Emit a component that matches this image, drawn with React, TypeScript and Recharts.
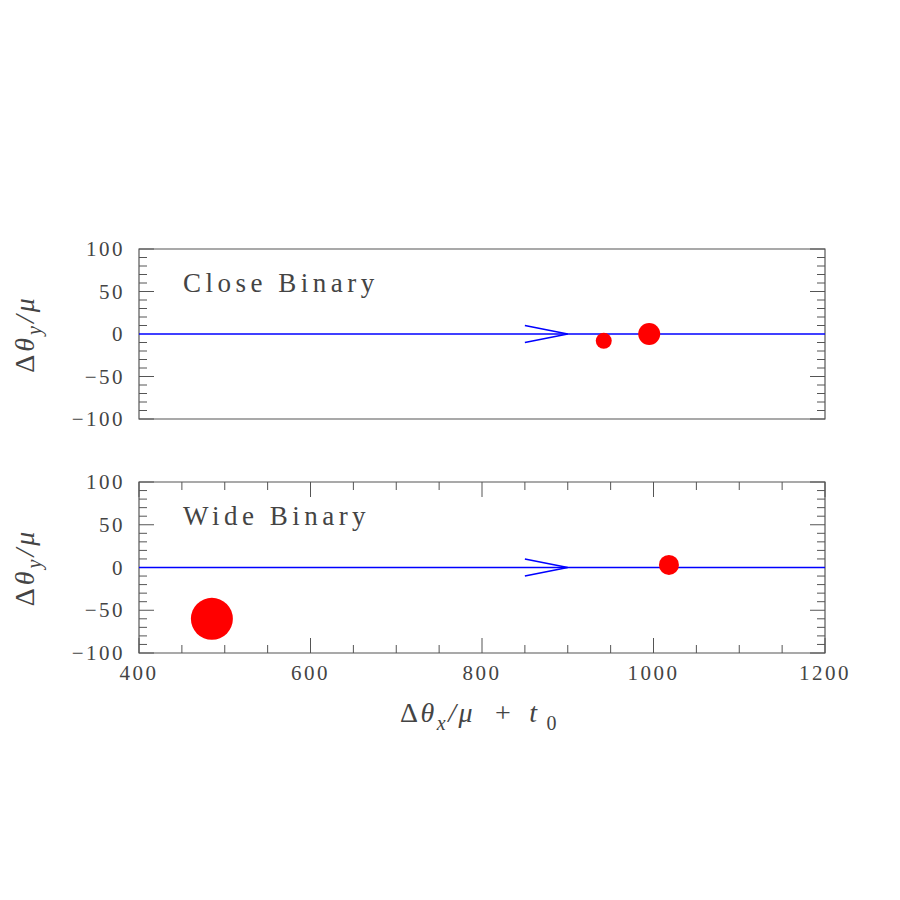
import { ComposedChart, Line, Scatter, XAxis, YAxis, ZAxis, ReferenceArea } from 'recharts';

// tick values
const xTicks = [400, 450, 500, 550, 600, 650, 700, 750, 800, 850, 900, 950, 1000, 1050, 1100, 1150, 1200];
const yTicks = [-100, -90, -80, -70, -60, -50, -40, -30, -20, -10, 0, 10, 20, 30, 40, 50, 60, 70, 80, 90, 100];

// source trajectory (horizontal) and direction arrow
const pathX = [400, 1200];
const pathY = [0, 0];
const arrowX = [850, 900, 850];
const arrowY = [10, 0, -10];

// lens components: position and relative brightness (drawn as area)
const closeX = [942, 995];
const closeY = [-8, 0];
const closeFlux = [64, 121];
const wideX = [485, 1018];
const wideY = [-60, 3];
const wideFlux = [441, 100];

const pathData = pathX.map((x, i) => ({ x, y: pathY[i] }));
const arrowData = arrowX.map((x, i) => ({ x, y: arrowY[i] }));
const closeData = closeX.map((x, i) => ({ x, y: closeY[i], z: closeFlux[i] }));
const wideData = wideX.map((x, i) => ({ x, y: wideY[i], z: wideFlux[i] }));

const LEFT = 139;
const RIGHT = 825;
const FONT = '"Liberation Serif", serif';
const AXIS = '#555';
const TXT = '#444';

function makeYTick() {
  return (props: any) => {
    const { y, payload } = props;
    const v = payload.value;
    const major = v % 50 === 0;
    const len = major ? 15 : 8;
    return (
      <g>
        {v !== 0 && <line x1={LEFT} x2={LEFT + len} y1={y} y2={y} stroke={AXIS} />}
        {v !== 0 && <line x1={RIGHT - len} x2={RIGHT} y1={y} y2={y} stroke={AXIS} />}
        {major && (
          <text x={LEFT - 14} y={y} dy={7} textAnchor="end" fontFamily={FONT} fontSize={21} fill={TXT} letterSpacing={2.5}>
            {v < 0 ? '\u2212' + Math.abs(v) : v}
          </text>
        )}
      </g>
    );
  };
}

function makeXTick(top: number, bottom: number, labels: boolean) {
  return (props: any) => {
    const { x, payload } = props;
    const v = payload.value;
    const major = v % 200 === 0;
    const len = major ? 15 : 8;
    return (
      <g>
        <line x1={x} x2={x} y1={bottom} y2={bottom - len} stroke={AXIS} />
        <line x1={x} x2={x} y1={top} y2={top + len} stroke={AXIS} />
        {labels && major && (
          <text x={x} y={bottom + 27} textAnchor="middle" fontFamily={FONT} fontSize={21} fill={TXT} letterSpacing={2.5}>
            {v}
          </text>
        )}
      </g>
    );
  };
}

function YLabel(props: any) {
  const vb = props.viewBox;
  const cy = vb.y + vb.height / 2;
  const cx = 34;
  return (
    <text x={cx} y={cy} transform={`rotate(-90, ${cx}, ${cy})`} textAnchor="middle" fontFamily={FONT} fontSize={28} fill={TXT} letterSpacing={3}>
      {'\u0394'}<tspan fontStyle="italic">{'\u03b8'}</tspan>
      <tspan dy={7} fontSize={20} fontStyle="italic">y</tspan>
      <tspan dy={-7} fontStyle="italic">/</tspan><tspan fontStyle="italic">{'\u03bc'}</tspan>
    </text>
  );
}

function XLabel(props: any) {
  const vb = props.viewBox;
  const x0 = vb.x + vb.width / 2 - 82;
  const y = vb.y + 69;
  return (
    <text x={x0} y={y} textAnchor="start" fontFamily={FONT} fontSize={28} fill={TXT} letterSpacing={2.5}>
      {'\u0394'}<tspan fontStyle="italic">{'\u03b8'}</tspan>
      <tspan dy={8} fontSize={20} fontStyle="italic">x</tspan>
      <tspan dy={-8} fontStyle="italic">/</tspan><tspan fontStyle="italic">{'\u03bc'}</tspan>
      <tspan dx={20}>+</tspan>
      <tspan dx={16} fontStyle="italic">t</tspan>
      <tspan dx={7} dy={8} fontSize={20}>0</tspan>
    </text>
  );
}

function Panel(props: { title: string; data: any[]; top: number; height: number; mTop: number; mBottom: number; xHeight: number; labels: boolean }) {
  const { title, data, top, height, mTop, mBottom, xHeight, labels } = props;
  const plotTop = mTop;
  const plotBottom = height - mBottom - xHeight;
  return (
    <div style={{ position: 'absolute', left: 0, top, width: 900, height }}>
      <ComposedChart width={900} height={height} margin={{ top: mTop, right: 900 - RIGHT, bottom: mBottom, left: 0 }}>
        <XAxis
          type="number"
          dataKey="x"
          domain={[400, 1200]}
          ticks={xTicks}
          interval={0}
          height={xHeight}
          axisLine={false}
          tickLine={false}
          tick={makeXTick(plotTop, plotBottom, labels)}
          label={labels ? { content: XLabel } : undefined}
        />
        <YAxis
          type="number"
          dataKey="y"
          domain={[-100, 100]}
          ticks={yTicks}
          interval={0}
          width={LEFT}
          axisLine={false}
          tickLine={false}
          tick={makeYTick()}
          label={{ content: YLabel }}
        />
        <ZAxis type="number" dataKey="z" domain={[0, 500]} range={[0, 500 * Math.PI]} />
        <ReferenceArea x1={400} x2={1200} y1={-100} y2={100} fill="none" stroke={AXIS} strokeWidth={1.2} ifOverflow="visible" />
        <Line data={pathData} dataKey="y" stroke="#0000ff" strokeWidth={1.5} dot={false} isAnimationActive={false} />
        <Line data={arrowData} dataKey="y" stroke="#0000ff" strokeWidth={1.5} dot={false} isAnimationActive={false} />
        <Scatter data={data} dataKey="y" fill="#ff0000" shape="circle" isAnimationActive={false} />
      </ComposedChart>
      <div style={{ position: 'absolute', left: 183, top: plotTop + 19, fontFamily: FONT, fontSize: 27, color: TXT, letterSpacing: 4.5, whiteSpace: 'nowrap' }}>
        {title}
      </div>
    </div>
  );
}

export default function App() {
  return (
    <div style={{ position: 'absolute', left: 0, top: 0, width: 900, height: 900, background: '#fff' }}>
      <Panel title="Close Binary" data={closeData} top={0} height={440} mTop={249} mBottom={21} xHeight={0} labels={false} />
      <Panel title="Wide Binary" data={wideData} top={440} height={460} mTop={42} mBottom={167} xHeight={80} labels={true} />
    </div>
  );
}
